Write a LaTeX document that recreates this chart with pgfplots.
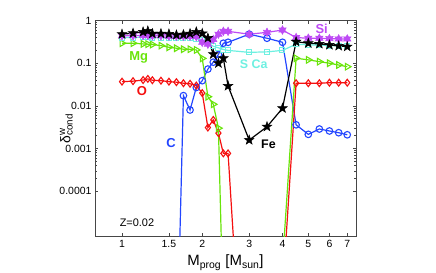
\documentclass[border=0pt]{standalone}
\usepackage{fontspec}
\setmainfont{Liberation Sans}
\usepackage{pgfplots}
\pgfplotsset{compat=1.18}
\definecolor{cFe}{RGB}{0,0,0}
\definecolor{cSi}{RGB}{190,75,245}
\definecolor{cSCa}{RGB}{110,240,225}
\definecolor{cMg}{RGB}{105,228,10}
\definecolor{cO}{RGB}{245,15,15}
\definecolor{cC}{RGB}{35,70,255}
\definecolor{axgray}{RGB}{70,70,70}
\pgfdeclareplotmark{pentagram}{%
  \pgfpathmoveto{\pgfpointpolar{90}{\pgfplotmarksize}}%
  \pgfpathlineto{\pgfpointpolar{126}{0.4\pgfplotmarksize}}%
  \pgfpathlineto{\pgfpointpolar{162}{\pgfplotmarksize}}%
  \pgfpathlineto{\pgfpointpolar{198}{0.4\pgfplotmarksize}}%
  \pgfpathlineto{\pgfpointpolar{234}{\pgfplotmarksize}}%
  \pgfpathlineto{\pgfpointpolar{270}{0.4\pgfplotmarksize}}%
  \pgfpathlineto{\pgfpointpolar{306}{\pgfplotmarksize}}%
  \pgfpathlineto{\pgfpointpolar{342}{0.4\pgfplotmarksize}}%
  \pgfpathlineto{\pgfpointpolar{18}{\pgfplotmarksize}}%
  \pgfpathlineto{\pgfpointpolar{54}{0.4\pgfplotmarksize}}%
  \pgfpathclose
  \pgfusepathqfillstroke}
\pgfdeclareplotmark{hexagram}{%
  \pgfpathmoveto{\pgfpointpolar{90}{\pgfplotmarksize}}%
  \pgfpathlineto{\pgfpointpolar{120}{0.55\pgfplotmarksize}}%
  \pgfpathlineto{\pgfpointpolar{150}{\pgfplotmarksize}}%
  \pgfpathlineto{\pgfpointpolar{180}{0.55\pgfplotmarksize}}%
  \pgfpathlineto{\pgfpointpolar{210}{\pgfplotmarksize}}%
  \pgfpathlineto{\pgfpointpolar{240}{0.55\pgfplotmarksize}}%
  \pgfpathlineto{\pgfpointpolar{270}{\pgfplotmarksize}}%
  \pgfpathlineto{\pgfpointpolar{300}{0.55\pgfplotmarksize}}%
  \pgfpathlineto{\pgfpointpolar{330}{\pgfplotmarksize}}%
  \pgfpathlineto{\pgfpointpolar{0}{0.55\pgfplotmarksize}}%
  \pgfpathlineto{\pgfpointpolar{30}{\pgfplotmarksize}}%
  \pgfpathlineto{\pgfpointpolar{60}{0.55\pgfplotmarksize}}%
  \pgfpathclose
  \pgfusepathqfillstroke}
\begin{document}
\begin{tikzpicture}
\useasboundingbox (0,0) rectangle (436bp,273bp);
\begin{axis}[
  at={(95bp,36.4bp)}, anchor=south west,
  scale only axis, width=261bp, height=216bp,
  xmode=log, ymode=log,
  xmin=0.792, xmax=7.55, ymin=8.6e-6, ymax=1,
  xtick={1,1.5,2,3,4,5,6,7},
  xticklabels={1,1.5,2,3,4,5,6,7},
  ytick={1e-4,1e-3,1e-2,1e-1,1},
  yticklabels={0.0001,0.001,0.01,0.1,1},
  minor xtick={},
  tick align=inside,
  major tick length=3.5bp, minor tick length=2bp,
  xtick pos=both, ytick pos=both,
  axis line style={axgray, line width=0.9bp},
  every tick/.style={axgray, line width=0.6bp},
  tick label style={font=\fontsize{10.5}{12}\selectfont, text=black},
  xlabel={M\textsubscript{prog} [M\textsubscript{sun}]},
  xlabel style={font=\fontsize{15}{17}\selectfont, at={(axis description cs:0.5,-0.136)}, anchor=base},
  ylabel={δ\rlap{\textsuperscript{w}}\textsubscript{cond}},
  ylabel style={font=\fontsize{14}{16}\selectfont, at={(axis description cs:-0.11,0.5)}, anchor=center, rotate=0},
  every axis plot/.append style={line width=1.2bp},
  clip=true,
]
% C
\addplot[cC, mark=o, mark size=3.3bp, mark options={line width=1.1bp}] coordinates {
(1.6,5e-9)(1.7,0.0174)(1.8,0.0080)(1.9,0.027)(2.0,0.039)(2.1,0.073)(2.2,0.106)(2.3,0.16)(2.4,0.295)(2.5,0.31)
(3.0,0.48)(3.5,0.386)(4.0,0.31)(4.5,0.0036)(5.0,0.00215)(5.5,0.00287)(6.0,0.00258)(6.5,0.00235)(7.0,0.0021)};
% O
\addplot[cO, mark=diamond, mark size=3.4bp, mark options={line width=1.1bp}] coordinates {
(1.0,0.037)(1.1,0.038)(1.2,0.0404)(1.25,0.043)(1.3,0.040)(1.4,0.039)(1.5,0.037)(1.6,0.036)(1.7,0.034)(1.8,0.033)(1.9,0.030)
(2.0,0.020)(2.1,0.0031)(2.2,0.0047)(2.3,0.0023)(2.4,0.00077)(2.5,0.00077)(3.0,1e-11)(3.5,1e-11)(4.0,4e-7)
(4.5,0.034)(5.0,0.034)(5.5,0.034)(6.0,0.035)(6.5,0.035)(7.0,0.035)};
% Mg
\addplot[cMg, mark=triangle, mark size=3.8bp, mark options={rotate=-90, line width=1.1bp}] coordinates {
(1.0,0.295)(1.1,0.295)(1.2,0.284)(1.25,0.28)(1.3,0.275)(1.4,0.259)(1.5,0.237)(1.6,0.225)(1.7,0.213)(1.8,0.213)(1.9,0.205)
(2.0,0.13)(2.1,0.0164)(2.2,0.0109)(2.3,0.003)(2.4,1e-7)(2.5,1e-8)(3.0,1e-8)(3.5,1e-8)(4.0,2e-6)
(4.5,0.131)(5.0,0.12)(5.5,0.109)(6.0,0.10)(6.5,0.091)(7.0,0.083)};
% S Ca
\addplot[cSCa, mark=square, mark size=2.5bp, mark options={line width=1.0bp}] coordinates {
(1.0,0.40)(1.1,0.40)(1.2,0.41)(1.25,0.41)(1.3,0.40)(1.4,0.40)(1.5,0.40)(1.6,0.39)(1.7,0.39)(1.8,0.39)(1.9,0.38)
(2.0,0.35)(2.1,0.30)(2.2,0.25)(2.3,0.23)(2.4,0.21)(2.5,0.20)(3.0,0.18)(3.5,0.185)(4.0,0.20)
(4.5,0.28)(5.0,0.27)(5.5,0.265)(6.0,0.26)(6.5,0.255)(7.0,0.25)};
% Si
\addplot[cSi, mark=hexagram, mark size=4.2bp, mark options={fill=cSi, line width=0.6bp}] coordinates {
(1.0,0.44)(1.1,0.44)(1.2,0.45)(1.25,0.45)(1.3,0.44)(1.4,0.44)(1.5,0.43)(1.6,0.43)(1.7,0.43)(1.8,0.43)(1.9,0.42)
(2.0,0.31)(2.1,0.28)(2.2,0.36)(2.3,0.48)(2.4,0.56)(2.5,0.56)(3.0,0.48)(3.5,0.53)(4.0,0.60)
(4.5,0.40)(5.0,0.386)(5.5,0.386)(6.0,0.378)(6.5,0.372)(7.0,0.372)};
% Fe
\addplot[cFe, mark=pentagram, mark size=5bp, mark options={fill=black, line width=0.5bp}] coordinates {
(1.0,0.48)(1.1,0.506)(1.2,0.543)(1.25,0.573)(1.3,0.495)(1.4,0.495)(1.5,0.487)(1.6,0.462)(1.7,0.47)(1.8,0.495)(1.9,0.543)
(2.0,0.50)(2.1,0.39)(2.2,0.163)(2.3,0.10)(2.4,0.131)(2.5,0.0293)(3.0,0.00158)(3.5,0.00325)(4.0,0.0088)
(4.5,0.32)(5.0,0.295)(5.5,0.284)(6.0,0.269)(6.5,0.255)(7.0,0.245)};
\node[text=cSi, font=\fontsize{13}{15}\selectfont\bfseries] at (axis cs:5.61,0.656) {Si};
\node[text=cMg, font=\fontsize{13}{15}\selectfont\bfseries] at (axis cs:1.156,0.1406) {Mg};
\node[text=cSCa, font=\fontsize{12.5}{15}\selectfont\bfseries] at (axis cs:3.119,0.0964) {S Ca};
\node[text=cO, font=\fontsize{13}{15}\selectfont\bfseries] at (axis cs:1.188,0.0224) {O};
\node[text=cC, font=\fontsize{13}{15}\selectfont\bfseries] at (axis cs:1.526,0.00131) {C};
\node[text=black, font=\fontsize{12.5}{15}\selectfont\bfseries] at (axis cs:3.544,0.00128) {Fe};
\node[text=black, font=\fontsize{11}{13}\selectfont] at (axis cs:1.138,1.83e-5) {Z=0.02};
\end{axis}
\end{tikzpicture}
\end{document}
